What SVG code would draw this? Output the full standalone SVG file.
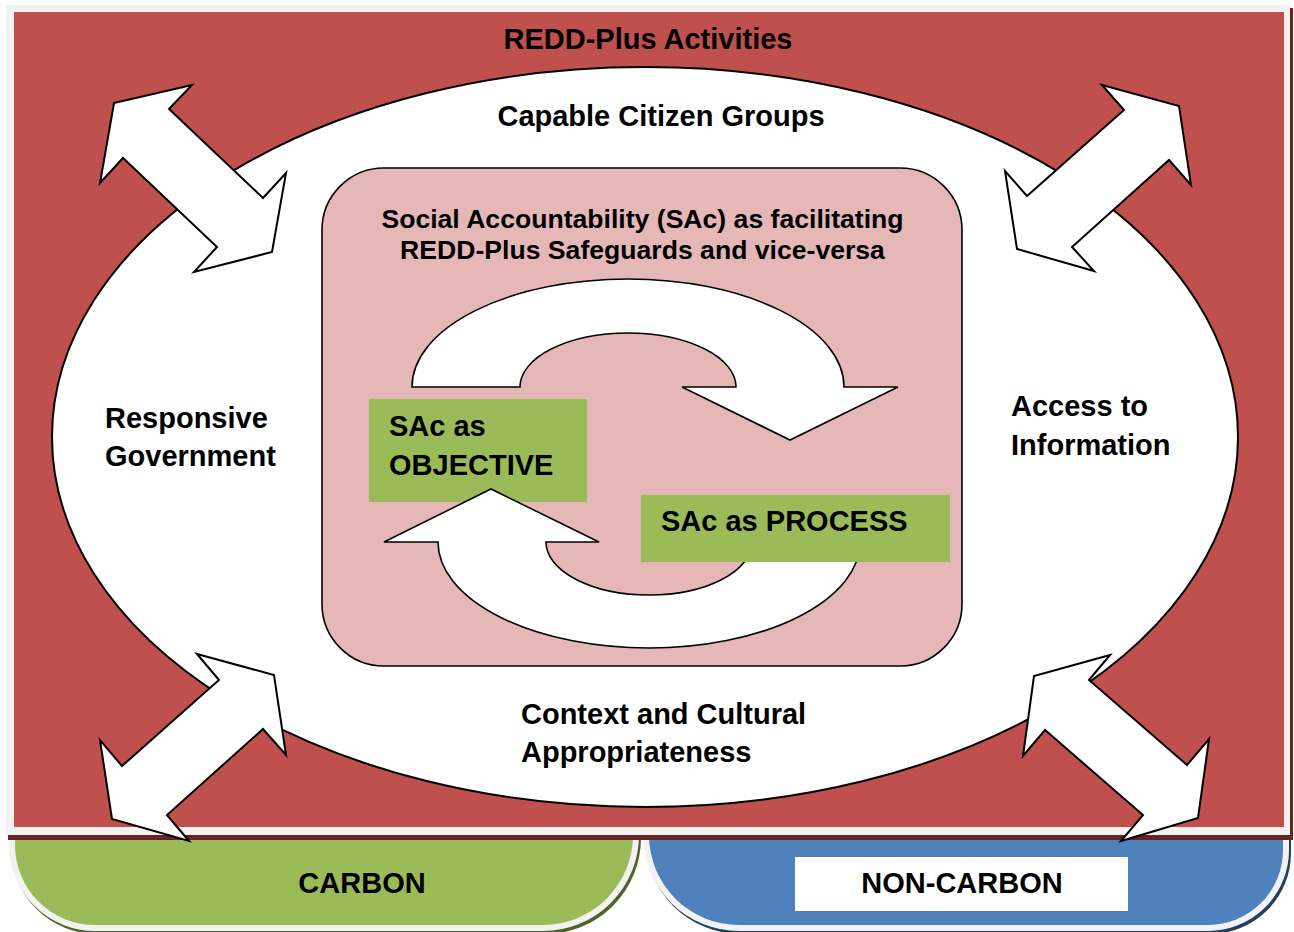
<svg xmlns="http://www.w3.org/2000/svg" width="1294" height="932" viewBox="0 0 1294 932">
<style>
text{font-family:"Liberation Sans",Arial,sans-serif;font-weight:bold;fill:#000;}
.t29{font-size:29px;}
.t27{font-size:26.6px;}
.arrow{fill:#fff;stroke:#000;stroke-width:2;stroke-linejoin:miter;}
.cyc{fill:#fff;stroke:#000;stroke-width:1.6;}
.base{paint-order:stroke;stroke-width:12;}
</style>
<rect width="1294" height="932" fill="#fff"/>
<g id="carbon">
<path class="base" d="M15 835H633A90 90 0 0 1 543 925H95A80 80 0 0 1 15 845Z" transform="translate(2,3)" fill="#4f6228" stroke="#4f6228"/>
<path class="base" d="M15 835H633A90 90 0 0 1 543 925H95A80 80 0 0 1 15 845Z" fill="#9bbb59" stroke="#f2f2f2"/>
<text class="t29" x="362" y="893" text-anchor="middle">CARBON</text>
</g>
<g id="non-carbon">
<path class="base" d="M649 835H1283V850A75 75 0 0 1 1208 925H739A90 90 0 0 1 649 835Z" transform="translate(2,3)" fill="#243f60" stroke="#243f60"/>
<path class="base" d="M649 835H1283V850A75 75 0 0 1 1208 925H739A90 90 0 0 1 649 835Z" fill="#4f81bd" stroke="#f2f2f2"/>
<rect x="795" y="857" width="333" height="54" fill="#fff"/>
<text class="t29" x="962" y="893" text-anchor="middle">NON-CARBON</text>
</g>
<g id="frame">
<rect x="8" y="8" width="1285" height="832" fill="#632523"/>
<rect x="6" y="5" width="1284" height="830" fill="#f2f2f2"/>
<rect x="14" y="12" width="1270" height="815" fill="#c0504d"/>
<text class="t29" x="648" y="49" text-anchor="middle">REDD-Plus Activities</text>
</g>
<g id="ellipse">
<ellipse cx="645" cy="437" rx="593" ry="370" fill="#fff" stroke="#000" stroke-width="2"/>
<text class="t29" x="661" y="126" text-anchor="middle">Capable Citizen Groups</text>
<text class="t29" x="105" y="428">Responsive</text>
<text class="t29" x="105" y="466">Government</text>
<text class="t29" x="1011" y="416">Access to</text>
<text class="t29" x="1011" y="455">Information</text>
<text class="t29" x="521" y="724">Context and Cultural</text>
<text class="t29" x="521" y="762">Appropriateness</text>
</g>
<g id="connectors">
<polygon class="arrow" points="114,103 192,85 169,109 263,198 286,173 272,252 194,272 217,247 123,158 100,183"/>
<polygon class="arrow" points="1102,85 1179,106 1191,185 1169,160 1072,247 1094,271 1017,249 1005,171 1027,196 1124,110"/>
<polygon class="arrow" points="197,654 274,675 286,755 263,729 167,815 189,841 112,819 100,740 122,766 219,680"/>
<polygon class="arrow" points="1110,655 1034,676 1023,756 1045,730 1143,815 1121,841 1198,818 1209,739 1187,765 1089,680"/>
</g>
<g id="sac">
<rect x="322" y="168" width="640" height="498" rx="62" ry="62" fill="#e5b8b7" stroke="#000" stroke-width="1.6"/>
<text class="t27" x="642.5" y="228" text-anchor="middle">Social Accountability (SAc) as facilitating</text>
<text class="t27" x="642.5" y="259" text-anchor="middle">REDD-Plus Safeguards and vice-versa</text>
<path class="cyc" d="M412 387A216 108 0 0 1 844 387H898L790 440L682 387H736A108 54 0 0 0 520 387Z"/>
<g id="objective">
<rect x="369" y="399" width="218" height="103" fill="#9bbb59"/>
<text class="t29" x="389" y="436">SAc as</text>
<text class="t29" x="389" y="475">OBJECTIVE</text>
</g>
<path class="cyc" d="M384 542L491 489L599 542H546A103 53 0 0 0 752 542H860A211 106 0 0 1 438 542Z"/>
<g id="process">
<rect x="641" y="495" width="309" height="67" fill="#9bbb59"/>
<text class="t29" x="661" y="531">SAc as PROCESS</text>
</g>
</g>
</svg>
